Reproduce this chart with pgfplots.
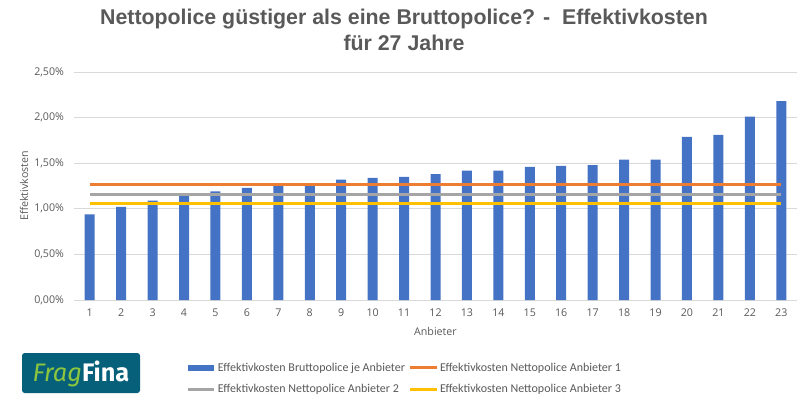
\documentclass[border=0pt]{standalone}
\usepackage{fontspec}
\usepackage{pgfplots}
\pgfplotsset{compat=1.18}
\setmainfont{Open Sans}
\newfontfamily\legfont{Carlito}
\newfontfamily\titlefont{Liberation Sans}
\newfontfamily\logofont{Fira Sans}
\definecolor{barblue}{HTML}{4472C4}
\definecolor{lorange}{HTML}{ED7D31}
\definecolor{lgray}{HTML}{A5A5A5}
\definecolor{lyellow}{HTML}{FFC000}
\definecolor{txtgray}{HTML}{595959}
\definecolor{gridgray}{HTML}{D9D9D9}
\definecolor{logoteal}{HTML}{07607A}
\definecolor{logogreen}{HTML}{8CC63F}
\begin{document}
\begin{tikzpicture}
\path[use as bounding box] (0,0) rectangle (605.25pt,-308.25pt);
% title
\node[anchor=base, text=txtgray, font=\titlefont\bfseries\fontsize{16}{19}\selectfont] at (303pt,-18.5pt)
  {Nettopolice güstiger als eine Bruttopolice? -\ \ Effektivkosten};
\node[anchor=base, text=txtgray, font=\titlefont\bfseries\fontsize{16}{19}\selectfont] at (303pt,-37.5pt)
  {für 27 Jahre};
% logo
\fill[logoteal, rounded corners=2pt] (16.5pt,-264.75pt) rectangle (105pt,-294.75pt);
\node[anchor=base, inner sep=0pt, font=\logofont\fontsize{19}{20}\selectfont] at (60.75pt,-286pt)
  {\textcolor{logogreen}{\itshape Frag}\textcolor{white}{\bfseries Fina}};
\begin{axis}[
    at={(55.5pt,-225pt)}, anchor=south west,
    scale only axis,
    width=542.25pt, height=171pt,
    xmin=0.5, xmax=23.5,
    ymin=0, ymax=2.5,
    xtick={1,...,23},
    ytick={0,0.5,1,1.5,2,2.5},
    yticklabels={{0,00\%},{0,50\%},{1,00\%},{1,50\%},{2,00\%},{2,50\%}},
    /pgf/number format/assume math mode=true,
    major tick length=0pt,
    axis line style={draw=none},
    ymajorgrids,
    grid style={gridgray, line width=0.75pt},
    ticklabel style={text=txtgray, font=\fontsize{8}{10}\selectfont},
    yticklabel style={xshift=-4pt},
    xticklabel style={yshift=-3pt},
    xlabel={Anbieter},
    ylabel={Effektivkosten},
    label style={text=txtgray, font=\fontsize{8}{10}\selectfont},
    xlabel style={at={(axis description cs:0.5,-0.136)}, anchor=center},
    ylabel style={at={(axis description cs:-0.069,0.5)}, anchor=center},
    legend columns=2,
    legend style={draw=none, fill=none, inner sep=0pt,
        at={(axis description cs:0.155,-0.265)}, anchor=north west,
        font=\legfont\fontsize{9}{11}\selectfont, text=txtgray,
        /tikz/every even column/.append style={column sep=1pt},
        row sep=5.5pt,
        nodes={inner sep=1.5pt}},
    legend cell align=left,
]
\addplot[ybar, bar width=7.5pt, fill=barblue, draw=none,
    legend image code/.code={\fill[barblue] (0pt,-2pt) rectangle (19.5pt,2pt);}]
  coordinates {
    (1,0.94) (2,1.02) (3,1.09) (4,1.15) (5,1.19) (6,1.23) (7,1.26)
    (8,1.27) (9,1.32) (10,1.34) (11,1.35) (12,1.38) (13,1.42) (14,1.42)
    (15,1.46) (16,1.47) (17,1.48) (18,1.54) (19,1.54) (20,1.79) (21,1.81)
    (22,2.01) (23,2.18)
  };
\addlegendentry{Effektivkosten Bruttopolice je Anbieter}
\addplot[lorange, line width=2.25pt,
    legend image code/.code={\draw[lorange, line width=2.25pt] (0pt,0pt) -- (20pt,0pt);}]
  coordinates {(1,1.27) (23,1.27)};
\addlegendentry{Effektivkosten Nettopolice Anbieter 1}
\addplot[lgray, line width=2.25pt,
    legend image code/.code={\draw[lgray, line width=2.25pt] (0pt,0pt) -- (20pt,0pt);}]
  coordinates {(1,1.16) (23,1.16)};
\addlegendentry{Effektivkosten Nettopolice Anbieter 2}
\addplot[lyellow, line width=2.25pt,
    legend image code/.code={\draw[lyellow, line width=2.25pt] (0pt,0pt) -- (20pt,0pt);}]
  coordinates {(1,1.06) (23,1.06)};
\addlegendentry{Effektivkosten Nettopolice Anbieter 3}
\end{axis}
\end{tikzpicture}
\end{document}
